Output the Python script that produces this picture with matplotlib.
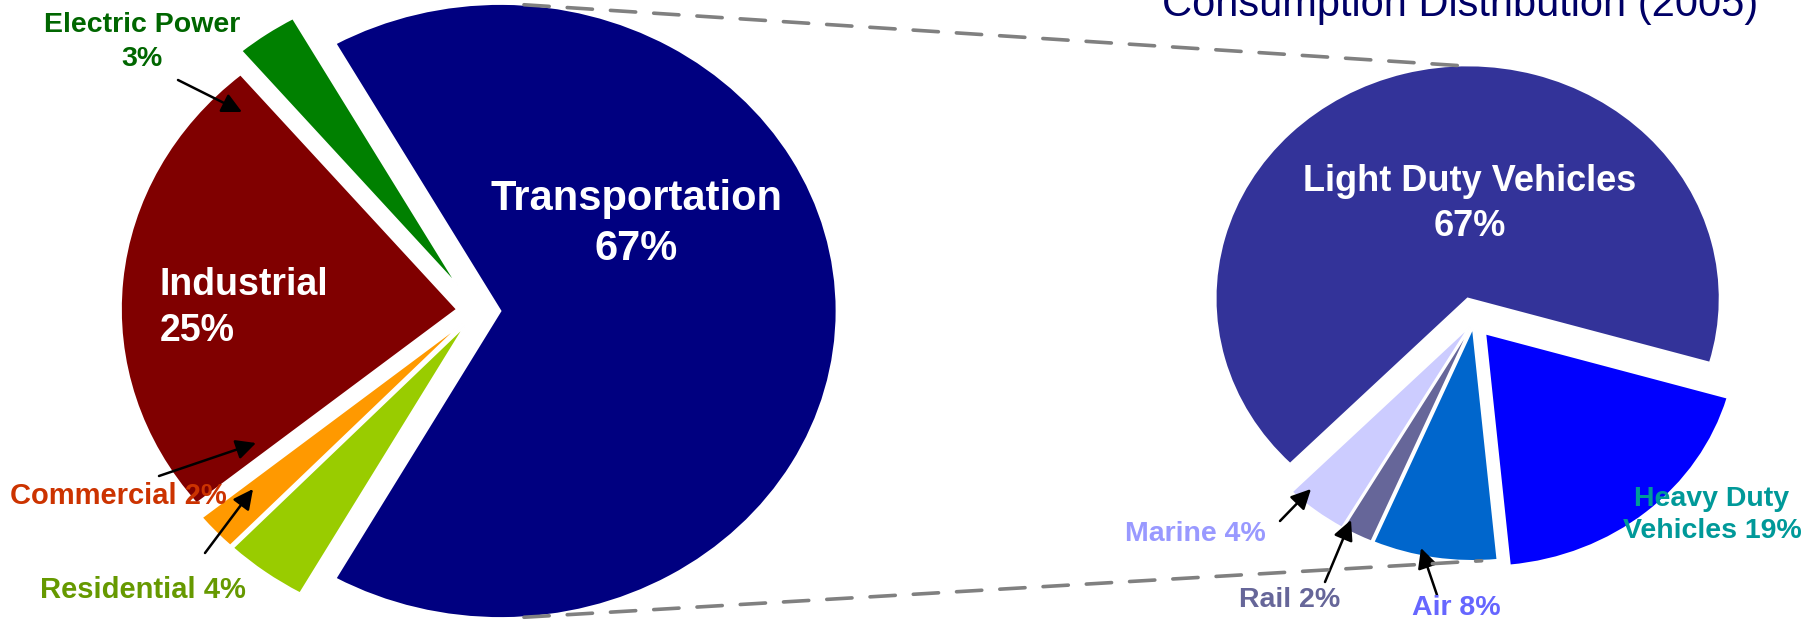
import numpy as np
import matplotlib
matplotlib.use('Agg')
import matplotlib.pyplot as plt
from matplotlib.patches import ConnectionPatch

plt.rcParams['font.family'] = ['Liberation Sans', 'DejaVu Sans']

# data
sector_names = ['Transportation', 'Electric Power', 'Industrial', 'Commercial', 'Residential']
sector_pct = [67, 3, 25, 2, 4]
sector_colors = ['#000080', '#008000', '#800000', '#FF9900', '#99CC00']

mode_names = ['Light Duty Vehicles', 'Marine', 'Rail', 'Air', 'Heavy Duty Vehicles']
mode_pct = [67, 4, 2, 8, 19]
mode_colors = ['#333399', '#CCCCFF', '#666699', '#0066CC', '#0000FF']

title = 'Consumption Distribution (2005)'

W, H = 1819, 622
fig = plt.figure(figsize=(W / 100, H / 100), dpi=100)


def fpos(x, y):
    # pixel position (from top-left) -> figure fraction
    return (x / W, 1 - y / H)


def fit_ellipse(ax, cx, cy, rx, ry):
    # pie centre at pixel (cx, cy), radius rx wide and ry tall
    ax.set_aspect('auto')
    b = ax.get_position()
    ax.set_xlim((b.x0 * W - cx) / rx, (b.x1 * W - cx) / rx)
    ax.set_ylim((cy - H * (1 - b.y0)) / ry, (cy - H * (1 - b.y1)) / ry)


wp = dict(edgecolor='white', linewidth=1.3)

# left pie
ax1 = fig.add_axes([0, 0, 0.5, 1])
start1 = -180 * sector_pct[0] / sum(sector_pct)
w1, _ = ax1.pie(sector_pct, colors=sector_colors, startangle=start1,
                explode=[0.07, 0.1, 0.06, 0.06, 0.06], wedgeprops=wp)
fit_ellipse(ax1, 477, 311, 336, 307)

# right pie
ax2 = fig.add_axes([0.5, 0, 0.5, 1])
w2, _ = ax2.pie(mode_pct, colors=mode_colors, startangle=-16,
                explode=[0.1, 0.03, 0.03, 0.03, 0.07], wedgeprops=wp)
fit_ellipse(ax2, 1474, 321, 252, 233)


def edge_pt(w, ang):
    a = np.deg2rad(ang)
    return (w.center[0] + w.r * np.cos(a), w.center[1] + w.r * np.sin(a))


for wa, aa, wb, ab in [(w1[0], 86, w2[0], 92), (w1[0], -86, w2[3], 272)]:
    con = ConnectionPatch(xyA=edge_pt(wa, aa), coordsA=ax1.transData,
                          xyB=edge_pt(wb, ab), coordsB=ax2.transData,
                          color='#808080', lw=2.6, linestyle=(0, (7, 5)))
    fig.add_artist(con)

# title (partly cut by the top edge)
fig.text(*fpos(1460, 16), title, ha='center', va='baseline',
         fontsize=30, color='#000066')

# labels inside wedges
fig.text(*fpos(636, 224), 'Transportation\n67%', ha='center', va='center',
         fontsize=30, fontweight='bold', color='white', linespacing=1.3)
fig.text(*fpos(160, 308), 'Industrial\n25%', ha='left', va='center',
         fontsize=27, fontweight='bold', color='white', linespacing=1.35)
fig.text(*fpos(1470, 204), 'Light Duty Vehicles\n67%', ha='center', va='center',
         fontsize=26, fontweight='bold', color='white', linespacing=1.35)

# outside labels
fig.text(*fpos(142, 42), 'Electric Power\n3%', ha='center', va='center',
         fontsize=20.5, fontweight='bold', color='#006600', linespacing=1.4)
fig.text(*fpos(10, 496), 'Commercial 2%', ha='left', va='center',
         fontsize=21, fontweight='bold', color='#CC3300')
fig.text(*fpos(40, 590), 'Residential 4%', ha='left', va='center',
         fontsize=21, fontweight='bold', color='#669900')
fig.text(*fpos(1195, 534), 'Marine 4%', ha='center', va='center',
         fontsize=20.5, fontweight='bold', color='#9999FF')
fig.text(*fpos(1290, 600), 'Rail 2%', ha='center', va='center',
         fontsize=20.5, fontweight='bold', color='#666699')
fig.text(*fpos(1456, 608), 'Air 8%', ha='center', va='center',
         fontsize=20.5, fontweight='bold', color='#6666FF')
fig.text(*fpos(1712, 515), 'Heavy Duty\nVehicles 19%', ha='center', va='center',
         fontsize=20.5, fontweight='bold', color='#009999', linespacing=1.35)

# arrows: (tail, head) in pixels
arrows = [(ax1, (178, 80), (242, 112)),
          (ax1, (159, 476), (256, 443)),
          (ax1, (205, 553), (253, 489)),
          (ax2, (1280, 521), (1311, 489)),
          (ax2, (1325, 582), (1351, 520)),
          (ax2, (1437, 595), (1421, 548))]
for ax, tail, head in arrows:
    ax.annotate('', xy=fpos(*head), xytext=fpos(*tail),
                xycoords='figure fraction', textcoords='figure fraction',
                arrowprops=dict(arrowstyle='-|>', color='black', lw=1.8,
                                mutation_scale=30, shrinkA=0, shrinkB=0))

fig.savefig('out.png', dpi=100)
